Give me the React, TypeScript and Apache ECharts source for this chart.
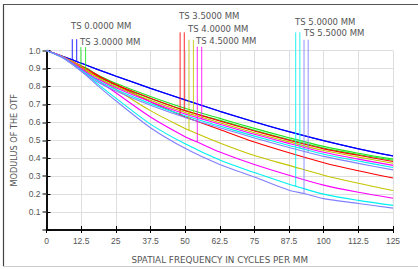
import React, { useEffect, useRef } from "react";
import * as echarts from "echarts";

// spatial frequencies (cycles/mm) at which curves were read
const freqs = [0, 6.25, 12.5, 18.75, 25, 37.5, 50, 62.5, 75, 87.5, 100, 112.5, 125];

// MTF readings, T = first legend line, S = second legend line
const field0T = [1, 0.965, 0.93, 0.893, 0.858, 0.79, 0.725, 0.662, 0.603, 0.548, 0.498, 0.453, 0.413];
const field0S = [1, 0.965, 0.929, 0.892, 0.857, 0.789, 0.724, 0.661, 0.602, 0.547, 0.497, 0.452, 0.412];
const field3T = [1, 0.96, 0.91, 0.862, 0.818, 0.744, 0.678, 0.622, 0.566, 0.514, 0.466, 0.428, 0.395];
const field3S = [1, 0.958, 0.903, 0.852, 0.807, 0.732, 0.666, 0.611, 0.556, 0.504, 0.457, 0.421, 0.389];
const field35T = [1, 0.963, 0.915, 0.86, 0.81, 0.715, 0.63, 0.56, 0.49, 0.43, 0.375, 0.33, 0.29];
const field35S = [1, 0.962, 0.905, 0.855, 0.81, 0.734, 0.665, 0.607, 0.552, 0.5, 0.452, 0.416, 0.382];
const field4T = [1, 0.962, 0.91, 0.845, 0.785, 0.665, 0.565, 0.485, 0.415, 0.36, 0.305, 0.26, 0.22];
const field4S = [1, 0.961, 0.9, 0.847, 0.8, 0.723, 0.655, 0.598, 0.542, 0.491, 0.443, 0.406, 0.372];
const field45T = [1, 0.96, 0.9, 0.83, 0.765, 0.63, 0.52, 0.435, 0.365, 0.305, 0.25, 0.21, 0.177];
const field45S = [1, 0.96, 0.895, 0.838, 0.792, 0.714, 0.646, 0.589, 0.533, 0.482, 0.433, 0.395, 0.36];
const field5T = [1, 0.957, 0.89, 0.81, 0.735, 0.59, 0.48, 0.39, 0.32, 0.255, 0.2, 0.165, 0.137];
const field5S = [1, 0.958, 0.89, 0.83, 0.783, 0.704, 0.636, 0.579, 0.523, 0.471, 0.422, 0.384, 0.348];
const field55T = [1, 0.955, 0.885, 0.8, 0.72, 0.57, 0.455, 0.365, 0.295, 0.222, 0.175, 0.148, 0.122];
const field55S = [1, 0.957, 0.885, 0.822, 0.774, 0.695, 0.627, 0.57, 0.513, 0.46, 0.41, 0.371, 0.335];

const fieldLabels = ["TS 0.0000 MM", "TS 3.0000 MM", "TS 3.5000 MM", "TS 4.0000 MM", "TS 4.5000 MM", "TS 5.0000 MM", "TS 5.5000 MM"];
const fieldColors = ["#0000ff", "#1ee61e", "#ff0000", "#c4c400", "#ff00ff", "#00f0f0", "#8080ff"];
const curvesT = [field0T, field3T, field35T, field4T, field45T, field5T, field55T];
const curvesS = [field0S, field3S, field35S, field4S, field45S, field5S, field55S];

// legend marker lines (frequency, where they meet the curve, where they start above the plot)
const markerFreqT = [9.3, 12.4, 48.2, 51.4, 54.4, 89.9, 92.9];
const markerFreqS = [10.9, 14.1, 49.7, 53.0, 56.0, 91.4, 94.4];
const markerEndT = [0.948, 0.905, 0.642, 0.556, 0.49, 0.244, 0.203];
const markerEndS = [0.939, 0.89, 0.666, 0.641, 0.619, 0.456, 0.432];
const markerTop = [1.063, 1.019, 1.101, 1.06, 1.021, 1.101, 1.06];

// legend text anchor positions (px)
const labelPos = [[71, 26], [80, 42], [179, 16], [188, 29], [196, 41], [295, 22.5], [304, 33.5]];

function withMarker(vals: number[], mf: number, mv: number) {
  const pts: number[][] = freqs.map((f, i) => [f, vals[i]]);
  pts.push([mf, mv]);
  pts.sort((a, b) => a[0] - b[0]);
  return pts;
}

export default function App() {
  const ref = useRef<HTMLDivElement>(null);
  useEffect(() => {
    if (!ref.current) return;
    const chart = echarts.init(ref.current, undefined, { renderer: "svg" });
    const series: any[] = [];
    fieldColors.forEach((c, i) => {
      series.push({
        type: "line", xAxisIndex: 0, yAxisIndex: 0, data: withMarker(curvesT[i], markerFreqT[i], markerEndT[i]),
        showSymbol: false, smooth: 0.3, lineStyle: { color: c, width: 1.1 }, z: 3,
      });
      series.push({
        type: "line", xAxisIndex: 0, yAxisIndex: 0, data: withMarker(curvesS[i], markerFreqS[i], markerEndS[i]),
        showSymbol: false, smooth: 0.3, lineStyle: { color: c, width: 1.1 }, z: 3,
      });
      series.push({
        type: "line", xAxisIndex: 0, yAxisIndex: 0, clip: false,
        data: [[markerFreqT[i], markerTop[i]], [markerFreqT[i], markerEndT[i]]],
        showSymbol: false, lineStyle: { color: c, width: 1, opacity: 0.85 }, z: 4,
      });
      series.push({
        type: "line", xAxisIndex: 0, yAxisIndex: 0, clip: false,
        data: [[markerFreqS[i], markerTop[i]], [markerFreqS[i], markerEndS[i]]],
        showSymbol: false, lineStyle: { color: c, width: 1, opacity: 0.85 }, z: 4,
      });
    });
    const labelFont = "DejaVu Sans";
    const graphics: any[] = fieldLabels.map((t, i) => ({
      type: "text", left: labelPos[i][0], top: labelPos[i][1] - 5,
      style: { text: t, fill: "#555", font: `8.5px "${labelFont}"` }, z: 10,
    }));
    graphics.push(
      { type: "line", shape: { x1: 3.5, y1: 4, x2: 3.5, y2: 266 }, style: { stroke: "#444", lineWidth: 1.2 } },
      { type: "line", shape: { x1: 3, y1: 4.5, x2: 418, y2: 4.5 }, style: { stroke: "#555", lineWidth: 1.2 } },
      { type: "line", shape: { x1: 3, y1: 266.5, x2: 418, y2: 266.5 }, style: { stroke: "#ccc", lineWidth: 1 } },
    );
    const axisCommon = {
      type: "value", min: 0, interval: 12.5, max: 125,
    };
    chart.setOption({
      animation: false,
      backgroundColor: "#fff",
      grid: { left: 46.5, top: 50.5, width: 346.5, height: 183.5, containLabel: false },
      xAxis: [
        {
          ...axisCommon, position: "bottom",
          name: "SPATIAL FREQUENCY IN CYCLES PER MM", nameLocation: "middle", nameGap: 25,
          nameTextStyle: { color: "#555", fontFamily: labelFont, fontSize: 8.8 },
          axisLine: { show: true, lineStyle: { color: "#000", width: 1.5 } },
          axisTick: { show: true, inside: true, length: 4, lineStyle: { color: "#000" } },
          axisLabel: { color: "#555", fontFamily: "Liberation Sans", fontSize: 8.5, margin: 6 },
          splitLine: { show: true, lineStyle: { color: "#dedede", width: 1 } },
        },
        {
          ...axisCommon, position: "top",
          axisLine: { show: true, lineStyle: { color: "#000", width: 1.5 } },
          axisTick: { show: true, inside: true, length: 3, lineStyle: { color: "#000" } },
          axisLabel: { show: false }, splitLine: { show: false },
        },
      ],
      yAxis: [
        {
          type: "value", min: 0, max: 1, interval: 0.1, position: "left",
          name: "MODULUS OF THE OTF", nameLocation: "middle", nameGap: 20,
          nameTextStyle: { color: "#555", fontFamily: labelFont, fontSize: 8.2 },
          axisLine: { show: true, lineStyle: { color: "#000", width: 1.5 } },
          axisTick: { show: true, inside: true, length: 4, lineStyle: { color: "#000" } },
          axisLabel: {
            color: "#555", fontFamily: "Liberation Sans", fontSize: 8.5, margin: 6,
            formatter: (v: number) => (v === 0 ? "" : v.toFixed(1)),
          },
          splitLine: { show: true, lineStyle: { color: "#dedede", width: 1 } },
        },
        {
          type: "value", min: 0, max: 1, interval: 0.1, position: "right",
          axisLine: { show: true, lineStyle: { color: "#000", width: 1.5 } },
          axisTick: { show: true, inside: true, length: 4, lineStyle: { color: "#555", width: 1.5 } },
          axisLabel: { show: false }, splitLine: { show: false },
        },
      ],
      series,
      graphic: graphics,
    });
    return () => chart.dispose();
  }, []);
  return <div ref={ref} style={{ position: "fixed", left: 0, top: 0, width: 418, height: 269 }} />;
}
